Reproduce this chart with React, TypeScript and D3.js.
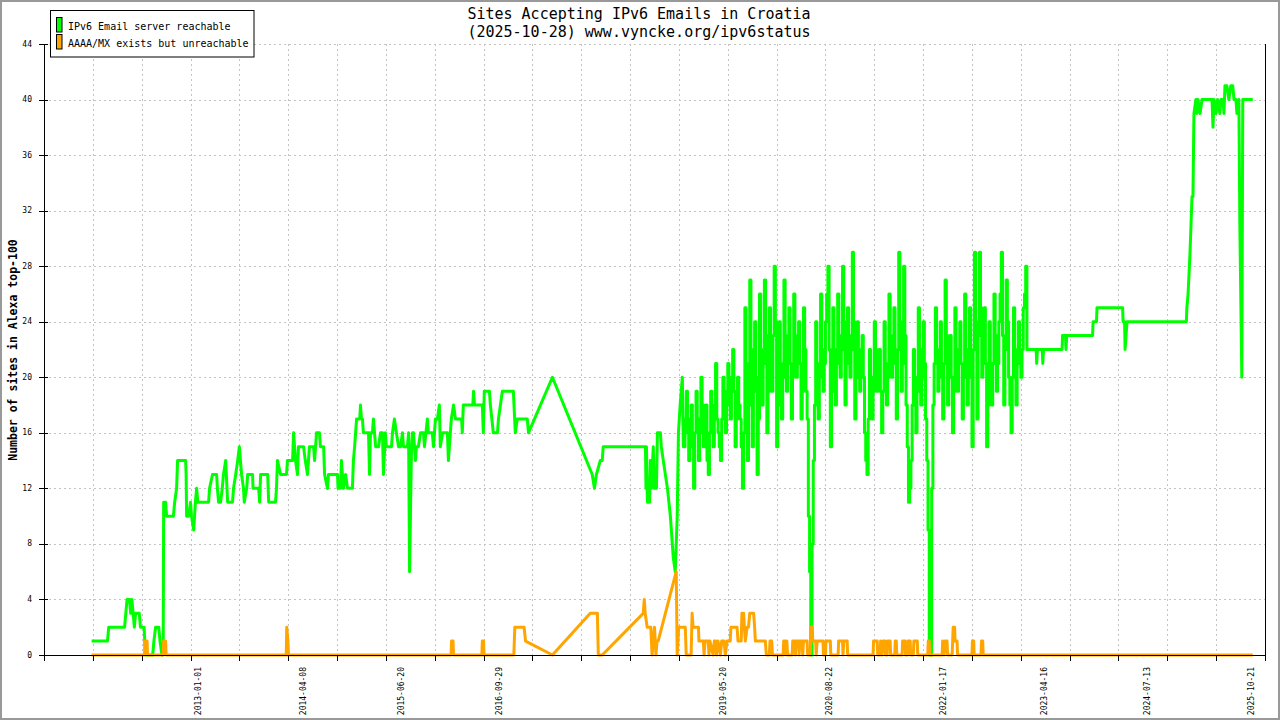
import React from 'react';
import * as d3 from 'd3';

const W = 1280;
const H = 720;
const PLOT = { left: 44, right: 1265, top: 44, bottom: 655 };

const titleLines = ['Sites Accepting IPv6 Emails in Croatia', '(2025-10-28) www.vyncke.org/ipv6status'];
const yAxisTitle = 'Number of sites in Alexa top-100';
const legendLabels = ['IPv6 Email server reachable', 'AAAA/MX exists but unreachable'];
const seriesColors = ['#00ff00', '#ffa500'];

const yTicks = [0, 4, 8, 12, 16, 20, 24, 28, 32, 36, 40, 44];
const xDomain = [0, 500];
const xTicks = d3.range(0, 501, 20);
const xLabelPos = [63.3, 106.2, 146.3, 186.5, 278.2, 321.5, 368.3, 409.7, 451.6, 494.3];
const xLabelText = ['2013-01-01', '2014-04-08', '2015-06-20', '2016-09-29', '2019-05-20', '2020-08-22', '2022-01-17', '2023-04-16', '2024-07-13', '2025-10-21'];

// IPv6 Email server reachable: [sample position, value]
const greenStart: [number, number][] = [
  [19.5,1],[26,1],[26.5,2],[33,2],[33.5,3],[34,4],[35,4],[35.5,3],[36,4],[36.5,3],[37,2],[37.5,3],[39,3],[39.5,2],[41,2],[41.5,0],[44.5,0],[45,1],[45.7,2],[47,2],[47.5,1],[48.3,0],[48.8,0],[49,11],[49.8,11],[50.2,10],[53,10],[53.5,11],[54.3,12],[54.7,14],[58,14],[58.2,13],[58.4,10],[59.2,10],[60,11],[60.4,10],[61.3,9],[62,11],[62.5,12],[63,11],[67.4,11],[67.8,12],[69,13],[70.7,13],[71,12],[71.5,11],[72.3,11],[73,12],[73.5,13],[74.4,14],[75.2,11],[77.2,11],[77.6,12],[78.5,13],[79.3,14],[80,15],[80.9,13],[81.7,12],[82,11],[83,12],[83.4,13],[85.4,13],[85.6,12],[87.9,12],[88.3,11],[88.7,13],[91.6,13],[92,11],[94.8,11],[95.2,12],[95.6,14],[96.9,13],[99.3,13],[99.7,14],[101.8,14],[102.2,16],[103,14],[103.8,13],[104.2,15],[106.3,15],[107,14],[107.9,13],[108.7,15],[110.4,15],[110.8,14],[111.6,16],[112.8,16],[113.2,15],[114.5,15],[114.9,13],[116.1,12],[116.5,13],[120.2,13],[120.4,12],[121.4,12],[121.8,14],[122.6,12],[123.5,13],[124.3,12],[126.3,12],[126.7,14],[127.2,15],[127.6,16],[128,17],[129.3,17],[129.6,18],[130,17],[130.4,17],[130.8,16],[132.9,16],[133.3,13],[133.7,16],[134.5,16],[134.9,17],[135.8,15],[137,15],[137.8,16],[138.6,16],[139,13],[139.8,16],[140.2,15],[142.3,15],[142.7,16],[143.5,17],[144.3,16],[145.2,15],[146,15],[146.8,16],[147.2,15],[148.8,15],[149.3,16],[149.7,6],[150.5,15],[150.9,16],[151.3,16],[152.1,14],[152.5,15],[153.3,15],[154.2,16],[155.4,16],[155.8,15],[157,17],[157.4,16],[159,16],[159.5,15],[160.3,17],[161.1,17],[161.9,18],[162.3,15],[163.2,16],[165.2,16],[165.6,14],[166.4,16],[166.8,17],[167.7,18],[168.5,17],[171,17],[171.3,16],[171.7,18],[175.6,18],[175.9,19],[176.3,18],[179.5,18],[179.9,16],[180.3,19],[182.4,19],[182.8,18],[184,16],[185.7,16],[186.1,17],[187.7,19],[192.2,19],[193,16],[193.8,17],[197.9,17],[198.4,16],[208.2,20],[224.5,13],[225.4,12],[226.2,13],[227.8,14],[228.6,14],[229,15],[246.3,15],[246.5,12],[246.7,15],[247.1,11],[248,11],[248.3,14],[248.7,12],[249.5,15],[249.9,12],[250.8,12],[251.2,16],[252.4,16],[252.8,15],[253.6,14],[255.3,12],[256.5,10],[257.7,7],[258.5,6],[259.3,10],[259.8,16],[260.5,18],[261.4,20],[261.8,15]
];
// dense period, one value per sample (half-unit spacing) from position 262, drawn as steps
const greenDenseStart = 262;
const greenDenseStep = 0.5;
const greenDense = [
  15,17,19,16,14,17,18,15,12,16,19,17,14,16,20,18,15,17,18,14,13,16,19,17,15,18,21,17,16,15,14,17,20,18,16,19,21,18,17,20,22,19,15,17,20,18,17,15,12,16,25,21,14,18,27,22,15,19,24,20,
  13,17,26,22,18,21,27,23,16,19,25,22,19,23,28,24,15,18,24,21,17,20,27,23,19,22,25,21,17,20,26,23,20,22,24,21,17,19,25,22,19,17,10,6,0,8,14,18,24,21,17,20,26,22,19,21,24,26,28,22,
  15,19,25,22,18,21,26,23,20,22,28,24,18,21,25,23,20,22,29,24,17,20,24,22,19,21,23,20,16,14,13,17,22,20,17,19,24,22,19,21,22,19,16,19,24,21,18,20,26,23,20,22,25,21,17,22,29,24,19,21,
  28,23,18,15,11,12,14,18,22,20,16,19,25,22,18,20,24,21,17,14,9,0,0,12,18,21,25,22,19,21,24,20,17,21,27,23,18,20,23,20,16,19,25,22,19,21,24,21,17,20,26,22,18,21,25,20,15,22,29,24,
  17,23,29,25,20,22,25,21,15,18,24,21,18,21,26,23,19,21,24,26,29,23,18,22,27,24,20,18,16,20,25,22,18,21,24,22,20,22,25,26,28,22
];
const greenEnd: [number, number][] = [
  [403.5,22],[406.3,22],[406.5,21],[406.8,22],[408.8,22],[409,21],[409.3,22],[416.9,22],[417.1,23],[418.3,23],[418.5,22],[418.8,23],[429.4,23],[429.6,24],[431,24],[431.2,25],[441.7,25],[441.9,24],[442.5,24],[442.7,22],[443.1,23],[443.5,24],[467.8,24],[468,25],[468.5,26],[469.3,29],[470.1,33],[470.5,33],[470.9,39],[471.7,40],[472.1,39],[472.5,40],[473.4,39],[474.2,40],[478.3,40],[478.7,38],[479.1,40],[479.9,39],[480.6,40],[481.5,39],[482,40],[482.8,40],[483.2,39],[483.6,41],[484.4,41],[485.2,40],[486,41],[486.8,41],[487.3,40],[488.1,40],[488.5,39],[488.9,39],[489.3,40],[489.7,31],[490.5,20],[490.9,40],[495,40]
];

// AAAA/MX exists but unreachable: [sample position, value]
const orangeData: [number, number][] = [
  [19.5,0],[41.2,0],[41.4,1],[42.2,1],[42.4,0],[48.8,0],[49,1],[49.8,1],[50,0],[99.2,0],[99.4,2],[99.9,1],[100.1,0],[166.7,0],[166.9,1],[167.5,1],[167.7,0],[179.3,0],[179.5,1],[180,1],[180.2,0],
  [192.4,0],[192.8,2],[196.6,2],[197.2,1],[208.2,0],[223.7,3],[226.6,3],[227,0],[228.6,0],[245.4,3],[245.8,4],[246.2,3],[247,2],[248.5,2],[249,0],[249.5,1],[250,2],[250.6,0],[251,1],[251.5,1],[258.9,6],[259.3,0],
  [259.9,2],[262.6,2],[263,0],[265,0],[265.4,3],[265.8,2],[268,2],[268.2,1],[270,1],[270.3,0],[270.7,1],[272,1],[272.3,0],[272.7,1],[274,0],[274.5,1],[275,1],[275.4,0],[276,1],[277,0],[277.5,1],[278.5,1],[279,0],[279.7,1],[281,1],[281.3,2],[283.8,2],[284.2,1],[285.5,1],[285.8,3],[286.5,3],[286.8,2],[287.2,1],[287.9,2],[288.5,2],[289,3],[290.6,3],[291,2],[291.3,1],[295.4,1],[295.8,0],[297,0],[297.3,1],[298,1],[298.3,0],[301,0],
  [302.7,0],[302.9,1],[303.6,1],[303.8,0],[304.2,1],[304.5,0],[306.4,0],[306.6,1],[307.5,1],[307.7,0],[308,1],[309,1],[309.2,0],[309.6,1],[310.5,1],[310.7,0],[311,1],[312.5,1],[312.7,0],[313.8,0],[314,2],[314.6,2],[314.8,1],[316,1],[316.2,0],[316.6,1],[319,1],[319.2,0],[320,0],[320.2,1],[322,1],[322.2,0],[325.2,0],[325.4,1],[327,1],[327.2,0],[327.5,1],[328.9,1],[329.1,0],
  [339.5,0],[339.7,1],[341.2,1],[341.4,0],[342.4,0],[342.6,1],[343.2,0],[343.6,1],[344.4,1],[344.6,0],[345.3,0],[345.5,1],[346.5,1],[346.7,0],[348.4,0],[348.6,1],[349,1],[349.2,0],[351.4,0],[351.6,1],[352.6,1],[352.8,0],[353.6,0],[353.8,1],[354.7,1],[354.9,0],[356,0],[356.2,1],[357.6,1],[357.8,0],[361.9,0],[362.1,1],[362.5,1],[362.7,0],
  [367.8,0],[368,1],[368.6,0],[369,1],[369.8,1],[370,0],[371.9,0],[372.1,1],[372.3,2],[372.9,2],[373.1,1],[373.9,1],[374.1,0],[380,0],[380.2,1],[380.7,1],[380.9,0],[383.7,0],[383.9,1],[384.4,1],[384.6,0],[495,0]
];

const MONO = '"DejaVu Sans Mono", "Liberation Mono", monospace';

export default function App() {
  const x = d3.scaleLinear().domain(xDomain).range([PLOT.left, PLOT.right]);
  const y = d3.scaleLinear().domain([0, 44]).range([PLOT.bottom, PLOT.top]);

  const densePts: [number, number][] = [];
  greenDense.forEach((v, i) => {
    const u = greenDenseStart + i * greenDenseStep;
    densePts.push([u, v]);
    densePts.push([u + greenDenseStep, v]);
  });

  const greenData: [number, number][] = [...greenStart, ...densePts, ...greenEnd];

  const line = d3.line<[number, number]>().x(d => x(d[0])).y(d => y(d[1]));

  return (
    <div style={{ position: 'absolute', left: 0, top: 0 }}>
      <svg width={W} height={H} viewBox={`0 0 ${W} ${H}`} style={{ display: 'block' }}>
        <rect x={0} y={0} width={W} height={H} fill="#ffffff" />
        <rect x={1} y={1} width={W - 2} height={H - 2} fill="none" stroke="#999999" strokeWidth={2} />

        {/* grid */}
        <g stroke="#c4c4c4" strokeWidth={1} strokeDasharray="2,3" shapeRendering="crispEdges">
          {yTicks.filter(t => t > 0).map(t => (
            <line key={'hy' + t} x1={PLOT.left} x2={PLOT.right} y1={Math.round(y(t)) + 0.5} y2={Math.round(y(t)) + 0.5} />
          ))}
          {xTicks.filter(t => t > 0 && t < 500).map(t => (
            <line key={'vx' + t} x1={Math.round(x(t)) + 0.5} x2={Math.round(x(t)) + 0.5} y1={PLOT.top} y2={PLOT.bottom} />
          ))}
        </g>

        {/* series */}
        <path d={line(greenData) || ''} fill="none" stroke={seriesColors[0]} strokeWidth={3} strokeLinejoin="round" />
        <path d={line(orangeData) || ''} fill="none" stroke={seriesColors[1]} strokeWidth={3} strokeLinejoin="round" />

        {/* axes */}
        <g stroke="#000" strokeWidth={1} shapeRendering="crispEdges">
          <line x1={PLOT.left + 0.5} x2={PLOT.left + 0.5} y1={PLOT.top} y2={PLOT.bottom + 1} />
          <line x1={PLOT.right + 0.5} x2={PLOT.right + 0.5} y1={PLOT.top} y2={PLOT.bottom + 1} />
          <line x1={PLOT.left - 4} x2={PLOT.right} y1={PLOT.bottom + 0.5} y2={PLOT.bottom + 0.5} />
          {yTicks.map(t => (
            <line key={'ty' + t} x1={PLOT.left - 5} x2={PLOT.left + 4} y1={Math.round(y(t)) + 0.5} y2={Math.round(y(t)) + 0.5} />
          ))}
          {xTicks.map(t => (
            <line key={'tx' + t} x1={Math.round(x(t)) + 0.5} x2={Math.round(x(t)) + 0.5} y1={PLOT.bottom} y2={PLOT.bottom + 6} />
          ))}
        </g>

        {/* y tick labels */}
        <g fontFamily={MONO} fontSize={8} fill="#000">
          {yTicks.map(t => (
            <text key={'ly' + t} x={32} y={y(t)} textAnchor="end" dominantBaseline="central">{t}</text>
          ))}
        </g>

        {/* x tick labels */}
        <g fontFamily={MONO} fontSize={8} fill="#000">
          {xLabelPos.map((p, i) => (
            <text key={'lx' + i} transform={`translate(${x(p)},667) rotate(-90)`} textAnchor="end" dy="0.36em">{xLabelText[i]}</text>
          ))}
        </g>

        {/* y axis title */}
        <text transform="translate(13,350) rotate(-90)" textAnchor="middle" dominantBaseline="central" fontFamily={MONO} fontSize={11.5} fontWeight="bold" fill="#000">{yAxisTitle}</text>

        {/* title */}
        <g fontFamily={MONO} fontSize={15} fill="#000" textAnchor="middle">
          <text x={639} y={18.5}>{titleLines[0]}</text>
          <text x={639} y={37}>{titleLines[1]}</text>
        </g>

        {/* legend */}
        <g>
          <rect x={50.5} y={10.5} width={203.5} height={46.5} fill="#fff" stroke="#000" strokeWidth={1} />
          {legendLabels.map((lab, i) => (
            <g key={'lg' + i}>
              <rect x={56.5} y={17.5 + i * 17} width={5.5} height={14.5} fill={seriesColors[i]} stroke="#000" strokeWidth={1} />
              <text x={68} y={30 + i * 17} fontFamily={MONO} fontSize={10} fill="#000">{lab}</text>
            </g>
          ))}
        </g>
      </svg>
    </div>
  );
}
